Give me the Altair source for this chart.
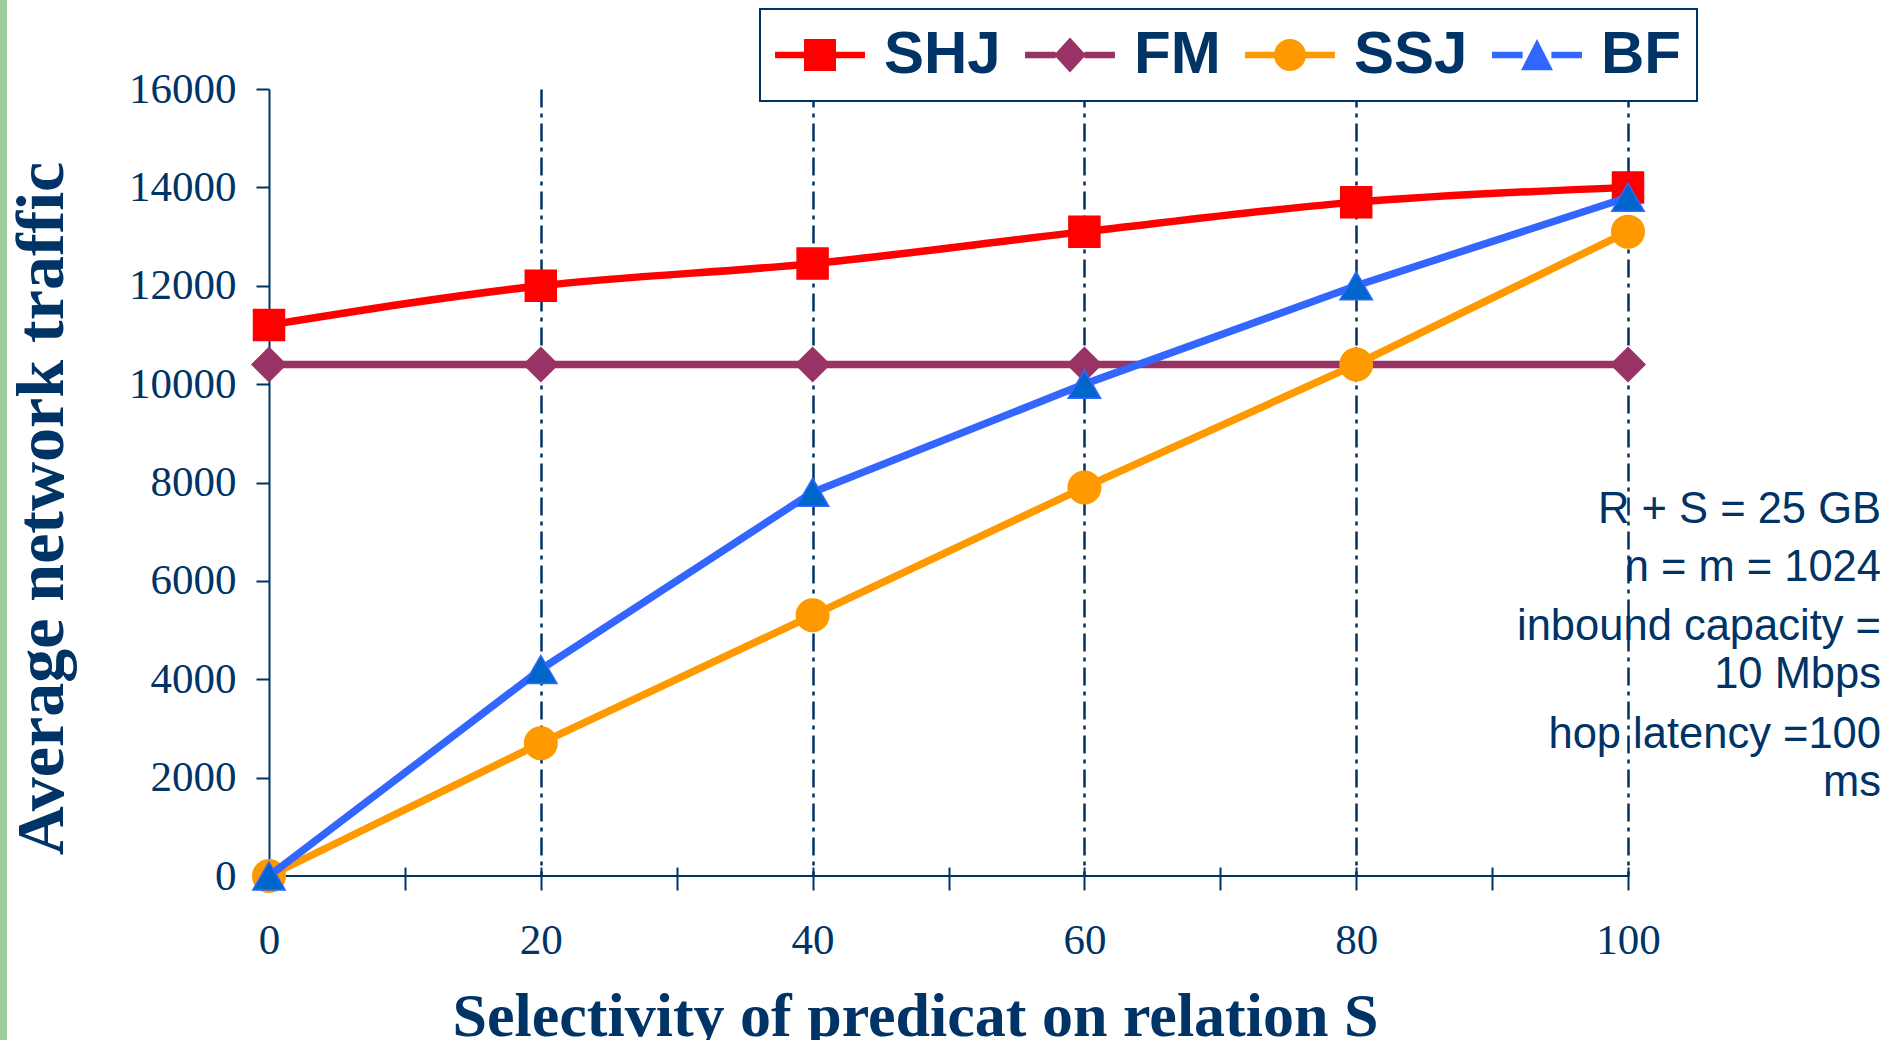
import altair as alt
import pandas as pd

# ---- data -----------------------------------------------------------------
selectivity = [0, 20, 40, 60, 80, 100]
shj_traffic = [11200, 12000, 12450, 13100, 13700, 14000]
fm_traffic = [10400, 10400, 10400, 10400, 10400, 10400]
ssj_traffic = [0, 2700, 5300, 7900, 10400, 13100]
bf_traffic = [0, 4200, 7800, 10000, 12000, 13800]

series_names = ["SHJ", "FM", "SSJ", "BF"]
x_tick_values = [0, 10, 20, 30, 40, 50, 60, 70, 80, 90, 100]
y_tick_values = [0, 2000, 4000, 6000, 8000, 10000, 12000, 14000, 16000]

setup_notes = [
    ["R + S = 25 GB"],
    ["n = m = 1024"],
    ["inbound capacity =", "10 Mbps"],
    ["hop latency =100", "ms"],
]

series_values = {
    "SHJ": shj_traffic,
    "FM": fm_traffic,
    "SSJ": ssj_traffic,
    "BF": bf_traffic,
}
df = pd.DataFrame(
    [
        {"series": name, "selectivity": s, "traffic": v}
        for name in series_names
        for s, v in zip(selectivity, series_values[name])
    ]
)

# ---- styling ----------------------------------------------------------------
NAVY = "#003366"
PLOT_W, PLOT_H = 1359, 787
PAD_L, PAD_T = 269, 89

styles = {
    "SHJ": dict(line="#ff0000", fill="#ff0000", stroke="#ff0000", shape="square", size=961, interp="monotone"),
    "FM": dict(line="#993366", fill="#993366", stroke="#993366", shape="diamond", size=1150, interp="linear"),
    "SSJ": dict(line="#ff9900", fill="#ff9900", stroke="#ff9900", shape="circle", size=1056, interp="linear"),
    "BF": dict(line="#3366ff", fill="#0066cc", stroke="#3366ff", shape="triangle-up", size=1050, interp="linear"),
}

# legend glyphs: a short line segment with the series marker in the middle
seg = "M-2.81,-0.2H-0.9V0.2H-2.81Z M0.9,-0.2H2.81V0.2H0.9Z "
legend_paths = [
    seg + "M-1,-1H1V1H-1Z",
    seg + "M0,-1.1L1,0L0,1.1L-1,0Z",
    seg + "M1,0A1,1 0 1,1 -1,0A1,1 0 1,1 1,0Z",
    seg + "M0,-1L1,0.95L-1,0.95Z",
]

x_enc = alt.X(
    "selectivity:Q",
    scale=alt.Scale(domain=[0, 100], nice=False, zero=False),
    axis=alt.Axis(
        values=x_tick_values,
        labelExpr="datum.value % 20 == 0 ? datum.label : ''",
        domain=False,
        offset=-9,
        tickSize=23,
        tickColor=NAVY,
        tickWidth=2,
        labelFont="Liberation Serif",
        labelFontSize=43,
        labelColor=NAVY,
        labelBaseline="alphabetic",
        labelPadding=63,
        labelFlush=False,
        labelOverlap=False,
        grid=True,
        gridColor=NAVY,
        gridDash=[18, 6, 4, 6],
        gridWidth=2.5,
        gridOpacity={"condition": {"test": "datum.value % 20 == 0 && datum.value > 0", "value": 1}, "value": 0},
        title="Selectivity of predicat on relation S",
        titleFont="Liberation Serif",
        titleFontSize=62,
        titleFontWeight="bold",
        titleColor=NAVY,
        titleX=646,
        titleY=168,
        titleBaseline="alphabetic",
        titleAlign="center",
    ),
)

y_enc = alt.Y(
    "traffic:Q",
    scale=alt.Scale(domain=[0, 16000], nice=False),
    axis=alt.Axis(
        values=y_tick_values,
        format="d",
        domainColor=NAVY,
        domainWidth=2,
        tickSize=13,
        tickColor=NAVY,
        tickWidth=2,
        labelFont="Liberation Serif",
        labelFontSize=43,
        labelColor=NAVY,
        labelPadding=20,
        labelFlush=False,
        labelOverlap=False,
        grid=False,
        title="Average network traffic",
        titleFont="Liberation Serif",
        titleFontSize=68,
        titleFontWeight="bold",
        titleColor=NAVY,
        titleX=-207,
        titleY=419,
        titleBaseline="alphabetic",
        titleAlign="center",
    ),
)

base = alt.Chart(df)

layers = []

# thin green band along the left edge of the page
layers.append(
    base.mark_rect(color="#9dcd9b").encode(
        x=alt.value(-PAD_L), x2=alt.value(-PAD_L + 7),
        y=alt.value(-PAD_T), y2=alt.value(1044 - PAD_T),
    )
)

# x baseline at zero traffic
layers.append(base.mark_rule(color=NAVY, strokeWidth=2).encode(y=alt.datum(0)))

for name in series_names:
    st = styles[name]
    sub = base.transform_filter(alt.datum.series == name)
    layers.append(
        sub.mark_line(color=st["line"], strokeWidth=7.5, interpolate=st["interp"]).encode(x=x_enc, y=y_enc)
    )
    layers.append(
        sub.mark_point(
            shape=st["shape"], size=st["size"], filled=True, fill=st["fill"],
            stroke=st["stroke"], strokeWidth=1.5, opacity=1,
        ).encode(x=x_enc, y=y_enc)
    )

# legend carrier: no marks drawn, only the legend
legend_def = alt.Legend(
    orient="none",
    legendX=491,
    legendY=-80,
    direction="horizontal",
    columns=4,
    title=None,
    labelFont="Liberation Sans",
    labelFontSize=60,
    labelFontWeight="bold",
    labelColor=NAVY,
    labelOffset=34,
    symbolOffset=14,
    symbolSize=1024,
    symbolStrokeWidth=0,
    columnPadding=24,
    padding=16,
    strokeColor=NAVY,
    fillColor="white",
)
layers.append(
    base.transform_filter("false").mark_point(filled=True, opacity=1).encode(
        x=x_enc,
        y=y_enc,
        color=alt.Color("series:N", scale=alt.Scale(domain=series_names, range=[styles[n]["line"] for n in series_names]), legend=legend_def),
        shape=alt.Shape("series:N", scale=alt.Scale(domain=series_names, range=legend_paths), legend=legend_def),
    )
)

# experiment settings, right-aligned beside the plot
note_baselines = [434, 492, 551, 659]
for lines, yb in zip(setup_notes, note_baselines):
    layers.append(
        alt.Chart(alt.Data(values=[{}])).mark_text(
            align="right", baseline="alphabetic", font="Liberation Sans",
            fontSize=43.5, color=NAVY, lineHeight=48,
        ).encode(x=alt.value(1612), y=alt.value(yb), text=alt.value(lines))
    )

chart = (
    alt.layer(*layers)
    .properties(
        width=PLOT_W,
        height=PLOT_H,
        autosize=alt.AutoSizeParams(type="none"),
        padding={"left": PAD_L, "top": PAD_T, "right": 269, "bottom": 164},
        background="white",
    )
    .configure_view(stroke=None)
    .configure_legend(strokeWidth=2)
)

chart.save("out.html", embed_options={"renderer": "svg", "actions": False})
